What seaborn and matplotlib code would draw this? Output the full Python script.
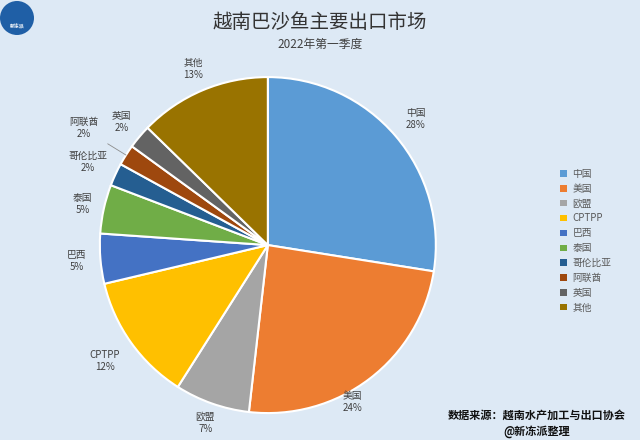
import matplotlib
matplotlib.use("Agg")
import matplotlib.pyplot as plt
from matplotlib.patches import Patch, Ellipse
import numpy as np
import seaborn as sns

categories = ["中国", "美国", "欧盟", "CPTPP", "巴西", "泰国", "哥伦比亚", "阿联酋", "英国", "其他"]
shares = [27.5, 24.3, 7.2, 12.3, 4.8, 4.7, 2.2, 2.0, 2.3, 12.7]
palette = ["#5B9BD5", "#ED7D31", "#A5A5A5", "#FFC000", "#4472C4",
           "#70AD47", "#255E91", "#9E480E", "#636363", "#997300"]

sns.set_theme(style="white")
plt.rcParams['font.family'] = ['Noto Sans CJK SC', 'DejaVu Sans']

bg = "#dde9f5"
fig = plt.figure(figsize=(6.4, 4.4), dpi=100, facecolor=bg)
ax = fig.add_axes([0.156, 0.061, 0.525, 0.764])
ax.set_facecolor(bg)

total = sum(shares)
labels = [f"{c}\n{round(v / total * 100):d}%" for c, v in zip(categories, shares)]

wedges, texts = ax.pie(shares, colors=palette, startangle=90, counterclock=False,
                       labels=labels, labeldistance=1.15,
                       wedgeprops=dict(edgecolor="white", linewidth=1.5),
                       textprops=dict(fontsize=7, color="#404040", linespacing=1.25))
ax.set_aspect("equal")
ax.set_xlim(-1.0, 1.0)
ax.set_ylim(-1.0, 1.0)

dist = {"中国": 1.16, "美国": 1.06, "欧盟": 1.12, "CPTPP": 1.19, "巴西": 1.14, "泰国": 1.13,
        "哥伦比亚": 1.18, "阿联酋": 1.30, "英国": 1.14, "其他": 1.14}
shift = {"美国": -9.0}
for w, t, c in zip(wedges, texts, categories):
    t.set_ha("center")
    t.set_va("center")
    t.set_clip_on(False)
    mid = np.deg2rad((w.theta1 + w.theta2) / 2 + shift.get(c, 0.0))
    d = dist[c]
    t.set_position((d * np.cos(mid), d * np.sin(mid)))
    if c == "阿联酋":
        ax.plot([1.2 * np.cos(mid) + 0.06, 1.0 * np.cos(mid)],
                [1.2 * np.sin(mid) - 0.04, 1.0 * np.sin(mid)],
                color="#8c8c8c", lw=0.6, clip_on=False)

handles = [Patch(facecolor=p, edgecolor="none") for p in palette]
fig.legend(handles, categories, loc="upper left", bbox_to_anchor=(0.868, 1 - 164 / 440),
           frameon=False, fontsize=7, handlelength=0.65, handleheight=0.65,
           handletextpad=0.6, labelspacing=0.5, labelcolor="#595959", borderpad=0)

fig.text(0.5, 1 - 22 / 440, "越南巴沙鱼主要出口市场", ha="center", va="center",
         fontsize=14, color="#333333")
fig.text(0.5, 1 - 44 / 440, "2022年第一季度", ha="center", va="center",
         fontsize=8.5, color="#404040")

fig.text(537 / 640, 1 - 415 / 440, "数据来源：越南水产加工与出口协会", ha="center", va="center",
         fontsize=8, fontweight="bold", color="#111111")
fig.text(537 / 640, 1 - 431 / 440, "@新冻派整理", ha="center", va="center",
         fontsize=8, fontweight="bold", color="#111111")

logo = Ellipse((17 / 640, 1 - 18 / 440), width=34 / 640, height=34 / 440,
               transform=fig.transFigure, facecolor="#1f5fa6", edgecolor="none")
fig.patches.append(logo)
fig.text(17 / 640, 1 - 27 / 440, "新冻派", ha="center", va="center", fontsize=3.5,
         color="white", fontweight="bold")

fig.savefig("out.png", dpi=100, facecolor=bg)
